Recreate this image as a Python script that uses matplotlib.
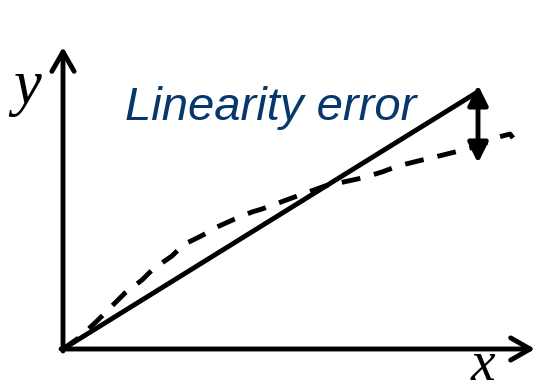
import matplotlib
matplotlib.use('Agg')
import matplotlib.pyplot as plt
import numpy as np

# ideal response (straight line) and real response (dashed curve)
ideal_x = [0, 413]
ideal_y = [0, 256]

real_x = [0, 17, 35, 50, 62, 79, 90, 109, 120, 140, 154, 174, 189, 199,
          237, 262, 299, 319, 335, 355, 372, 392, 419, 432, 447, 450]
real_y = [0, 12, 29, 44, 56, 69, 80, 93, 104, 114, 122, 131, 137, 140,
          154, 163, 171, 177, 183, 188, 192, 197, 204, 211, 215, 211]

err_x = 415
err_top = 264
err_bottom = 186

y_axis_top = 302
x_axis_right = 472

label_text = 'Linearity error'
BLUE = '#07386b'

fig = plt.figure(figsize=(5.38, 3.92), dpi=100)
ax = fig.add_axes([0, 0, 1, 1])
ax.set_xlim(-63, 475)
ax.set_ylim(-43, 349)
ax.set_axis_off()

# axes with open arrow heads
ax.annotate('', xy=(0, y_axis_top), xytext=(0, -2),
            arrowprops=dict(arrowstyle='->,head_length=0.7,head_width=0.4',
                            lw=3.5, color='k', mutation_scale=20,
                            shrinkA=0, shrinkB=0))
ax.annotate('', xy=(x_axis_right, 0), xytext=(-2, 0),
            arrowprops=dict(arrowstyle='->,head_length=0.7,head_width=0.4',
                            lw=3.5, color='k', mutation_scale=20,
                            shrinkA=0, shrinkB=0))

ax.plot(ideal_x, ideal_y, color='k', lw=3.5, solid_capstyle='butt')
ax.plot(real_x, real_y, color='k', lw=3.5, linestyle=(0, (3.9, 2.9)),
        dash_capstyle='butt')

# error arrow
ax.annotate('', xy=(err_x, err_bottom), xytext=(err_x, err_top),
            arrowprops=dict(arrowstyle='<|-|>,head_length=0.6,head_width=0.3',
                            lw=3.5, color='k', mutation_scale=20,
                            shrinkA=0, shrinkB=0))

ax.text(62, 229, label_text, color=BLUE, fontsize=34, style='italic',
        family='Liberation Sans', ha='left', va='baseline')
ax.text(-36, 246, 'y', fontsize=45, style='italic', family='Liberation Serif',
        ha='center', va='baseline')
ax.text(420, -42.5, 'x', fontsize=40, style='italic', family='Liberation Serif',
        ha='center', va='bottom')

plt.savefig('out.png', dpi=100)
plt.close()
